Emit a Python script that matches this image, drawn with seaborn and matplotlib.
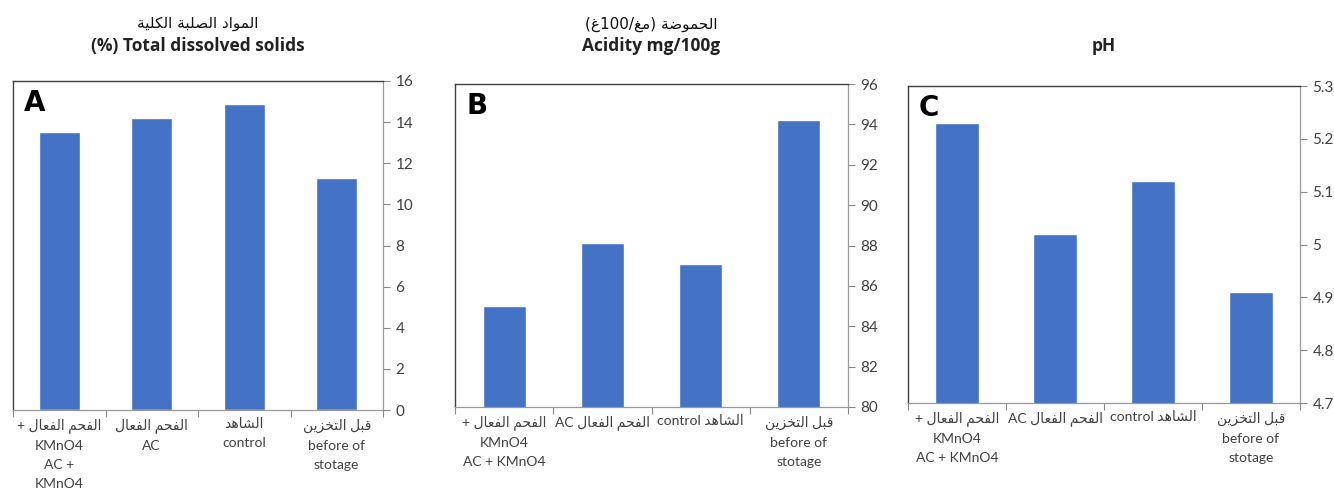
import matplotlib
matplotlib.use("Agg")
import matplotlib.pyplot as plt
import seaborn as sns
import pandas as pd
from matplotlib.ticker import FixedLocator

sns.set_theme(style="white")
plt.rcParams['font.family'] = ['Lato', 'DejaVu Sans']

# ---- minimal Arabic shaping (visual order) ----
FORMS = {
    'ا': ('\uFE8D', '\uFE8E', None, None),
    'ب': ('\uFE8F', '\uFE90', '\uFE91', '\uFE92'),
    'ة': ('\uFE93', '\uFE94', None, None),
    'ت': ('\uFE95', '\uFE96', '\uFE97', '\uFE98'),
    'ح': ('\uFEA1', '\uFEA2', '\uFEA3', '\uFEA4'),
    'خ': ('\uFEA5', '\uFEA6', '\uFEA7', '\uFEA8'),
    'د': ('\uFEA9', '\uFEAA', None, None),
    'ز': ('\uFEAF', '\uFEB0', None, None),
    'ش': ('\uFEB5', '\uFEB6', '\uFEB7', '\uFEB8'),
    'ص': ('\uFEB9', '\uFEBA', '\uFEBB', '\uFEBC'),
    'ض': ('\uFEBD', '\uFEBE', '\uFEBF', '\uFEC0'),
    'ع': ('\uFEC9', '\uFECA', '\uFECB', '\uFECC'),
    'غ': ('\uFECD', '\uFECE', '\uFECF', '\uFED0'),
    'ف': ('\uFED1', '\uFED2', '\uFED3', '\uFED4'),
    'ق': ('\uFED5', '\uFED6', '\uFED7', '\uFED8'),
    'ك': ('\uFED9', '\uFEDA', '\uFEDB', '\uFEDC'),
    'ل': ('\uFEDD', '\uFEDE', '\uFEDF', '\uFEE0'),
    'م': ('\uFEE1', '\uFEE2', '\uFEE3', '\uFEE4'),
    'ن': ('\uFEE5', '\uFEE6', '\uFEE7', '\uFEE8'),
    'ه': ('\uFEE9', '\uFEEA', '\uFEEB', '\uFEEC'),
    'و': ('\uFEED', '\uFEEE', None, None),
    'ي': ('\uFEF1', '\uFEF2', '\uFEF3', '\uFEF4'),
}


def ar(text):
    out = []
    n = len(text)
    for i, c in enumerate(text):
        if c not in FORMS:
            out.append(c)
            continue
        prev = text[i - 1] if i > 0 else ''
        nxt = text[i + 1] if i < n - 1 else ''
        jp = prev in FORMS and FORMS[prev][2] is not None
        jn = FORMS[c][2] is not None and nxt in FORMS
        iso, fin, ini, med = FORMS[c]
        if jp and jn:
            out.append(med)
        elif jp:
            out.append(fin)
        elif jn:
            out.append(ini)
        else:
            out.append(iso)
    return ''.join(out)[::-1]


# ---- data ----
categories = ["AC + KMnO4", "AC", "control", "before storage"]
tds_values = [13.5, 14.2, 14.9, 11.3]
acidity_values = [85.0, 88.1, 87.1, 94.2]
ph_values = [5.23, 5.02, 5.12, 4.91]

labels_a = [
    "+ " + ar("الفحم الفعال") + "\nKMnO4\nAC +\nKMnO4",
    ar("الفحم الفعال") + "\nAC",
    ar("الشاهد") + "\ncontrol",
    ar("قبل التخزين") + "\nbefore of\nstotage",
]
labels_bc = [
    "+ " + ar("الفحم الفعال") + "\nKMnO4\nAC + KMnO4",
    "AC " + ar("الفحم الفعال"),
    "control " + ar("الشاهد"),
    ar("قبل التخزين") + "\nbefore of\nstotage",
]

title_a = [ar("المواد الصلبة الكلية"), "(%) Total dissolved solids"]
title_b = ["(" + ar("غ") + "100/" + ar("مغ") + ") " + ar("الحموضة"), "Acidity mg/100g"]
title_c = ["", "pH"]

ylims = [(0, 16), (80, 96), (4.7, 5.3)]
yticks = [[0, 2, 4, 6, 8, 10, 12, 14, 16],
          [80, 82, 84, 86, 88, 90, 92, 94, 96],
          [4.7, 4.8, 4.9, 5.0, 5.1, 5.2, 5.3]]
ytick_labels = [[str(v) for v in yticks[0]],
                [str(v) for v in yticks[1]],
                ["4.7", "4.8", "4.9", "5", "5.1", "5.2", "5.3"]]

BAR = "#4472C4"
W, H = 1334, 503
fig = plt.figure(figsize=(W / 100, H / 100), dpi=100)

boxes = [(13, 81, 383, 410), (455, 84, 848, 407), (908, 86, 1300, 403)]
panels = [
    (tds_values, labels_a, title_a, "A"),
    (acidity_values, labels_bc, title_b, "B"),
    (ph_values, labels_bc, title_c, "C"),
]

for k, ((x0, y0, x1, y1), (vals, labs, ttl, letter)) in enumerate(zip(boxes, panels)):
    ax = fig.add_axes([x0 / W, 1 - y1 / H, (x1 - x0) / W, (y1 - y0) / H])
    df = pd.DataFrame({"cat": categories, "val": vals})
    sns.barplot(data=df, x="cat", y="val", color=BAR, width=0.44,
                saturation=1, ax=ax, order=categories)
    ax.set_xlim(-0.5, 3.5)
    ax.set_ylim(*ylims[k])
    ax.set_xlabel("")
    ax.set_ylabel("")
    ax.yaxis.tick_right()
    ax.set_yticks(yticks[k])
    ax.set_yticklabels(ytick_labels[k], fontsize=11, color="#404040")
    ax.tick_params(axis="y", which="major", direction="out", length=5,
                   width=0.8, color="#888888", pad=4, right=True, left=False)
    ax.set_xticks(range(4))
    ax.set_xticklabels(labs, fontsize=10, color="#404040", linespacing=1.7)
    ax.tick_params(axis="x", which="major", length=0, pad=6)
    ax.xaxis.set_minor_locator(FixedLocator([-0.5, 0.5, 1.5, 2.5, 3.5]))
    ax.tick_params(axis="x", which="minor", direction="out", length=5,
                   width=0.8, color="#888888", bottom=True)
    for s in ["left", "top"]:
        ax.spines[s].set_color("#404040")
        ax.spines[s].set_linewidth(1.0)
    for s in ["right", "bottom"]:
        ax.spines[s].set_color("#999999")
        ax.spines[s].set_linewidth(0.9)
    ax.text(0.028, 0.975, letter, transform=ax.transAxes, ha="left", va="top",
            fontsize=20, fontweight="bold", color="black",
            family=["DejaVu Sans"])
    cx = (x0 + x1) / 2 / W
    if ttl[0]:
        fig.text(cx, 1 - 24 / H, ttl[0], ha="center", va="center",
                 fontsize=11, color="#111111", family=["DejaVu Sans"])
    fig.text(cx, 1 - 46 / H, ttl[1], ha="center", va="center",
             fontsize=12.5, fontweight="bold", color="#222222",
             family=["Open Sans", "DejaVu Sans"])

fig.savefig("out.png", dpi=100)
